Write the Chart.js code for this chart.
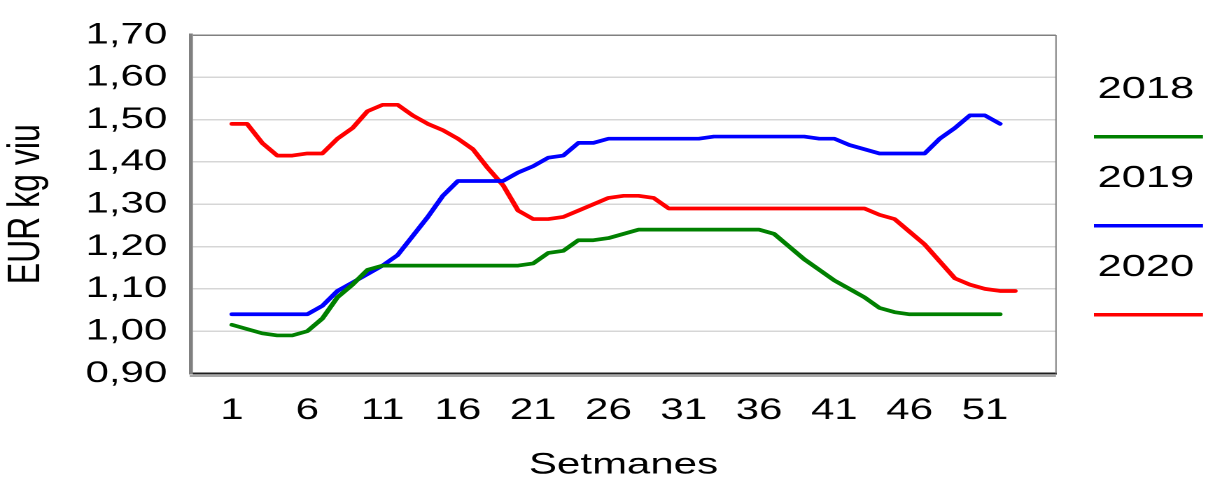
<!DOCTYPE html>
<html>
<head>
<meta charset="utf-8">
<title>EUR kg viu - Setmanes</title>
<script src="https://cdn.jsdelivr.net/npm/chart.js@4/dist/chart.umd.min.js"></script>
<style>
  html, body { margin: 0; padding: 0; background: #ffffff; }
  #price-chart { display: block; }
</style>
</head>
<body>
<!-- drawn at 863px wide and stretched to 1208px, the original has wide text -->
<canvas id="price-chart" width="863" height="484" style="width:1208px;height:484px"></canvas>
<script>
const weeks = [1, 2, 3, 4, 5, 6, 7, 8, 9, 10, 11, 12, 13, 14, 15, 16, 17, 18, 19, 20,
  21, 22, 23, 24, 25, 26, 27, 28, 29, 30, 31, 32, 33, 34, 35, 36, 37, 38, 39, 40,
  41, 42, 43, 44, 45, 46, 47, 48, 49, 50, 51, 52, 53];

const xTickWeeks = [1, 6, 11, 16, 21, 26, 31, 36, 41, 46, 51];
const yTickValues = [0.90, 1.00, 1.10, 1.20, 1.30, 1.40, 1.50, 1.60, 1.70];

const seriesNames = ['2018', '2019', '2020'];
const seriesColors = ['#008000', '#0000ff', '#ff0000'];

const prices2018 = [1.015, 1.005, 0.995, 0.99, 0.99, 1.00, 1.03, 1.08, 1.11, 1.145,
  1.155, 1.155, 1.155, 1.155, 1.155, 1.155, 1.155, 1.155, 1.155, 1.155,
  1.16, 1.185, 1.19, 1.215, 1.215, 1.22, 1.23,
  1.24, 1.24, 1.24, 1.24, 1.24, 1.24, 1.24, 1.24, 1.24,
  1.23, 1.20, 1.17, 1.145, 1.12, 1.10, 1.08, 1.055, 1.045,
  1.04, 1.04, 1.04, 1.04, 1.04, 1.04, 1.04];

const prices2019 = [1.04, 1.04, 1.04, 1.04, 1.04, 1.04,
  1.06, 1.095, 1.115, 1.135, 1.155, 1.18, 1.225, 1.27, 1.32, 1.355, 1.355, 1.355, 1.355,
  1.375, 1.39, 1.41, 1.415, 1.445, 1.445,
  1.455, 1.455, 1.455, 1.455, 1.455, 1.455, 1.455,
  1.46, 1.46, 1.46, 1.46, 1.46, 1.46, 1.46,
  1.455, 1.455, 1.44, 1.43,
  1.42, 1.42, 1.42, 1.42,
  1.455, 1.48, 1.51, 1.51, 1.49];

const prices2020 = [1.49, 1.49, 1.445, 1.415, 1.415, 1.42, 1.42, 1.455, 1.48, 1.52,
  1.535, 1.535, 1.51, 1.49, 1.475, 1.455, 1.43, 1.385, 1.345, 1.285,
  1.265, 1.265, 1.27, 1.285, 1.30, 1.315, 1.32, 1.32, 1.315,
  1.29, 1.29, 1.29, 1.29, 1.29, 1.29, 1.29, 1.29, 1.29, 1.29, 1.29, 1.29, 1.29, 1.29,
  1.275, 1.265, 1.235, 1.205, 1.165, 1.125, 1.11, 1.10, 1.095, 1.095];

const FONT = "'Liberation Sans', Arial, sans-serif";

// legend on the right: year text with its line underneath
const sideLegend = {
  id: 'sideLegend',
  afterDraw(chart) {
    const ctx = chart.ctx;
    const cx = 818.6;
    ctx.save();
    chart.data.datasets.forEach((ds, i) => {
      const textY = 89.7 + i * 89;
      ctx.fillStyle = '#000000';
      ctx.font = '31px ' + FONT;
      ctx.textAlign = 'center';
      ctx.textBaseline = 'middle';
      ctx.fillText(ds.label, cx, textY);
      ctx.strokeStyle = ds.borderColor;
      ctx.lineWidth = 3.5;
      ctx.beginPath();
      ctx.moveTo(781.5, textY + 47);
      ctx.lineTo(859.4, textY + 47);
      ctx.stroke();
    });
    ctx.restore();
  }
};

// right border of the plot and the grey shadow under the x axis
const plotFrame = {
  id: 'plotFrame',
  beforeDatasetsDraw(chart) {
    const ctx = chart.ctx;
    const a = chart.chartArea;
    ctx.save();
    ctx.strokeStyle = '#808080';
    ctx.lineWidth = 1;
    ctx.beginPath();
    ctx.moveTo(a.right, a.top);
    ctx.lineTo(a.right, a.bottom);
    ctx.stroke();
    ctx.strokeStyle = '#a8a8a8';
    ctx.lineWidth = 2;
    ctx.beginPath();
    ctx.moveTo(a.left - 1, a.bottom + 2.5);
    ctx.lineTo(a.right, a.bottom + 2.5);
    ctx.stroke();
    ctx.restore();
  }
};

function makeDataset(i, values) {
  return {
    label: seriesNames[i],
    data: values,
    borderColor: seriesColors[i],
    backgroundColor: seriesColors[i],
    borderWidth: 3.7,
    pointRadius: 0,
    tension: 0,
    fill: false,
    borderCapStyle: 'round',
    borderJoinStyle: 'round'
  };
}

const chartCanvas = document.getElementById('price-chart');
new Chart(chartCanvas, {
  type: 'line',
  data: {
    labels: weeks,
    datasets: [
      makeDataset(0, prices2018),
      makeDataset(1, prices2019),
      makeDataset(2, prices2020)
    ]
  },
  plugins: [plotFrame, sideLegend],
  options: {
    responsive: false,
    devicePixelRatio: 2,
    animation: false,
    layout: { padding: { left: 0, right: 108.6, top: 24.3, bottom: 0 } },
    plugins: {
      legend: { display: false },
      tooltip: { enabled: false }
    },
    scales: {
      x: {
        type: 'linear',
        min: -1.72,
        max: 55.72,
        afterBuildTicks: (scale) => {
          scale.ticks = xTickWeeks.map(v => ({ value: v }));
        },
        afterFit: (scale) => { scale.height = 110.5; },
        grid: { display: false, drawTicks: false },
        border: { display: true, color: '#1e1e1e', width: 2 },
        ticks: {
          autoSkip: false,
          maxRotation: 0,
          padding: 19,
          color: '#000000',
          font: { family: FONT, size: 30 },
          callback: (v) => String(v)
        },
        title: {
          display: true,
          text: 'Setmanes',
          color: '#000000',
          font: { family: FONT, size: 30 },
          padding: { top: 0, bottom: 1 }
        }
      },
      y: {
        min: 0.9,
        max: 1.7,
        afterBuildTicks: (scale) => {
          scale.ticks = yTickValues.map(v => ({ value: v }));
        },
        afterFit: (scale) => { scale.width = 136.5; },
        grid: {
          drawTicks: false,
          lineWidth: 1.5,
          color: (c) => (c.tick && c.tick.value === 1.7 ? '#808080' : '#d6d6d6')
        },
        border: { display: true, color: '#808080', width: 2.8 },
        ticks: {
          padding: 17,
          color: '#000000',
          font: { family: FONT, size: 30 },
          callback: (v) => Number(v).toFixed(2).replace('.', ',')
        },
        title: {
          display: true,
          text: 'EUR kg viu',
          color: '#000000',
          font: { family: FONT, size: 32 },
          padding: { top: 0, bottom: 0 }
        }
      }
    }
  }
});
</script>
</body>
</html>
